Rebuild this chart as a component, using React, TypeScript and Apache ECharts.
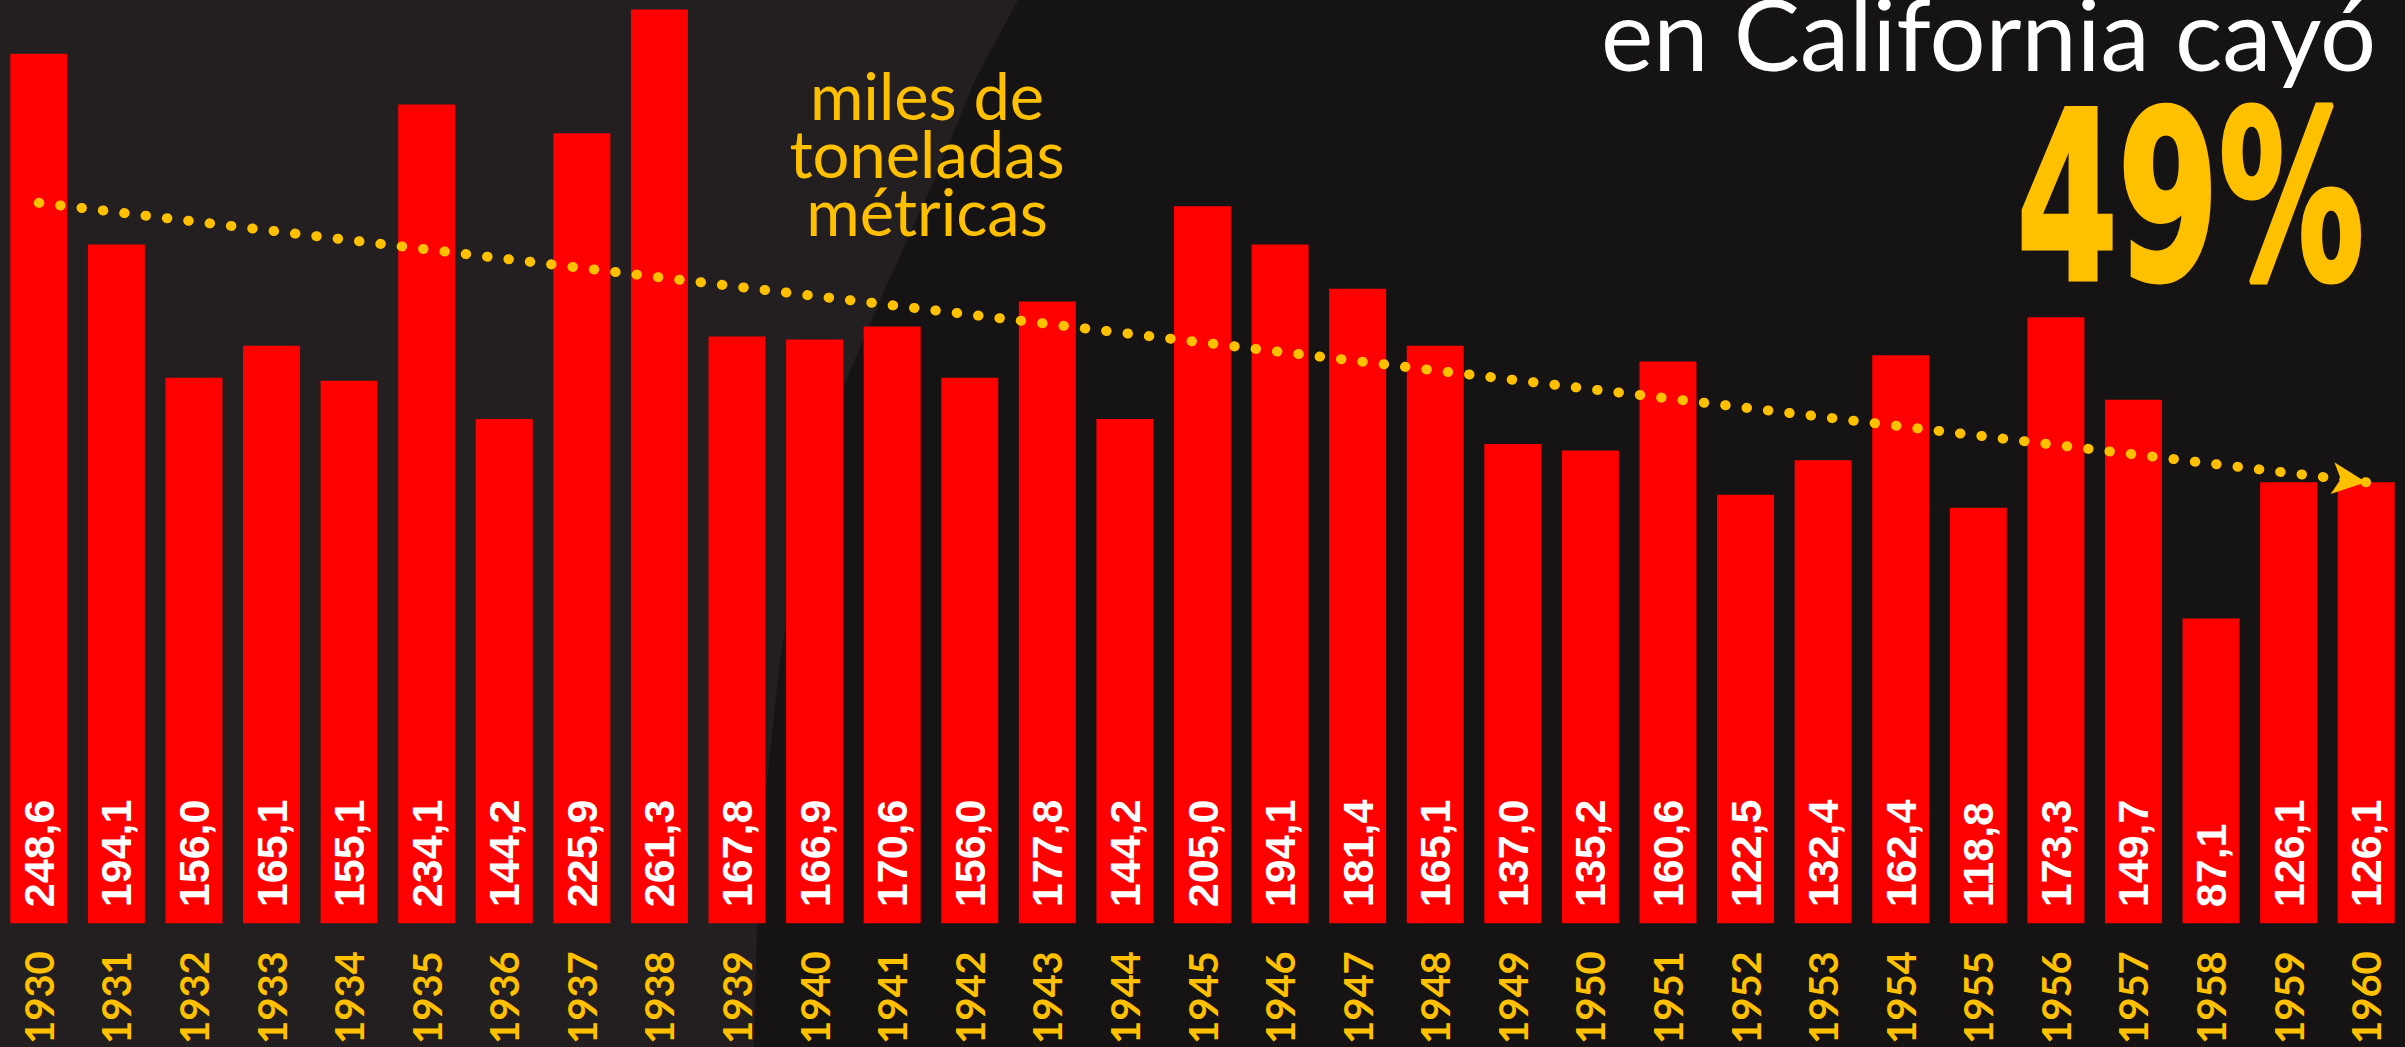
import React, { useEffect, useRef } from 'react';
import * as echarts from 'echarts';

const years = [
  '1930', '1931', '1932', '1933', '1934', '1935', '1936', '1937', '1938', '1939',
  '1940', '1941', '1942', '1943', '1944', '1945', '1946', '1947', '1948', '1949',
  '1950', '1951', '1952', '1953', '1954', '1955', '1956', '1957', '1958', '1959', '1960',
];
const production = [
  248.6, 194.1, 156.0, 165.1, 155.1, 234.1, 144.2, 225.9, 261.3, 167.8,
  166.9, 170.6, 156.0, 177.8, 144.2, 205.0, 194.1, 181.4, 165.1, 137.0,
  135.2, 160.6, 122.5, 132.4, 162.4, 118.8, 173.3, 149.7, 87.1, 126.1, 126.1,
];
const trendStart = 206;
const trendEnd = 126.1;
const titleLine = 'en California cayó';
const dropText = '49%';
const unitLines = ['miles de', 'toneladas', 'métricas'];

const YELLOW = '#FFC000';

export default function App() {
  const ref = useRef<HTMLDivElement>(null);
  useEffect(() => {
    const chart = echarts.init(ref.current as HTMLDivElement, null, { renderer: 'svg' });
    chart.setOption({
      animation: false,
      backgroundColor: '#231F20',
      grid: { left: 0, right: 0, top: 0, bottom: 122, containLabel: false },
      xAxis: {
        type: 'category',
        data: years,
        axisLine: { show: false },
        axisTick: { show: false },
        axisLabel: {
          interval: 0,
          rotate: 90,
          margin: 28,
          color: YELLOW,
          fontSize: 40,
          fontWeight: 'bold',
          fontFamily: 'Lato',
        },
      },
      yAxis: {
        type: 'value',
        min: 0,
        max: 264,
        show: false,
        splitLine: { show: false },
      },
      graphic: [
        {
          type: 'polygon',
          z: 0,
          silent: true,
          shape: {
            points: [
              [1018, 0], [975, 80], [930, 190], [880, 300], [838, 400], [805, 520],
              [780, 660], [765, 800], [757, 930], [754, 1047], [2405, 1047], [2405, 0],
            ],
          },
          style: { fill: '#151314' },
        },
        {
          type: 'text',
          z: 100,
          x: 1601,
          y: 32,
          silent: true,
          style: {
            text: titleLine,
            fill: '#FFFFFF',
            font: '99px Lato',
            textAlign: 'left',
            textVerticalAlign: 'middle',
          },
        },
        {
          type: 'text',
          z: 100,
          x: 2364,
          y: 198,
          scaleX: 0.62,
          silent: true,
          style: {
            text: dropText,
            fill: YELLOW,
            stroke: YELLOW,
            lineWidth: 5,
            font: 'bold 234px "DejaVu Sans"',
            textAlign: 'right',
            textVerticalAlign: 'middle',
          },
        },
        {
          type: 'text',
          z: 100,
          x: 927,
          y: 153,
          silent: true,
          style: {
            text: unitLines.join('\n'),
            fill: YELLOW,
            font: '65px Lato',
            lineHeight: 58,
            textAlign: 'center',
            textVerticalAlign: 'middle',
          },
        },
      ],
      series: [
        {
          type: 'bar',
          data: production,
          barWidth: 57,
          itemStyle: { color: '#FF0000' },
          label: {
            show: true,
            position: 'insideBottom',
            rotate: 90,
            align: 'left',
            verticalAlign: 'middle',
            distance: 16,
            color: '#FFFFFF',
            fontFamily: 'Liberation Sans',
            fontWeight: 'bold',
            fontSize: 43,
            formatter: (p: any) => Number(p.value).toFixed(1).replace('.', ','),
          },
          emphasis: { disabled: true },
          markLine: {
            silent: true,
            symbol: ['none', 'arrow'],
            symbolSize: [24, 34],
            label: { show: false },
            emphasis: { disabled: true },
            lineStyle: { color: YELLOW, width: 10, type: [0.5, 21], cap: 'round', opacity: 1 },
            data: [[{ coord: [years[0], trendStart] }, { coord: [years[years.length - 1], trendEnd] }]],
          },
        },
      ],
    });
    return () => chart.dispose();
  }, []);
  return <div ref={ref} style={{ position: 'fixed', left: 0, top: 0, width: 2405, height: 1047 }} />;
}
